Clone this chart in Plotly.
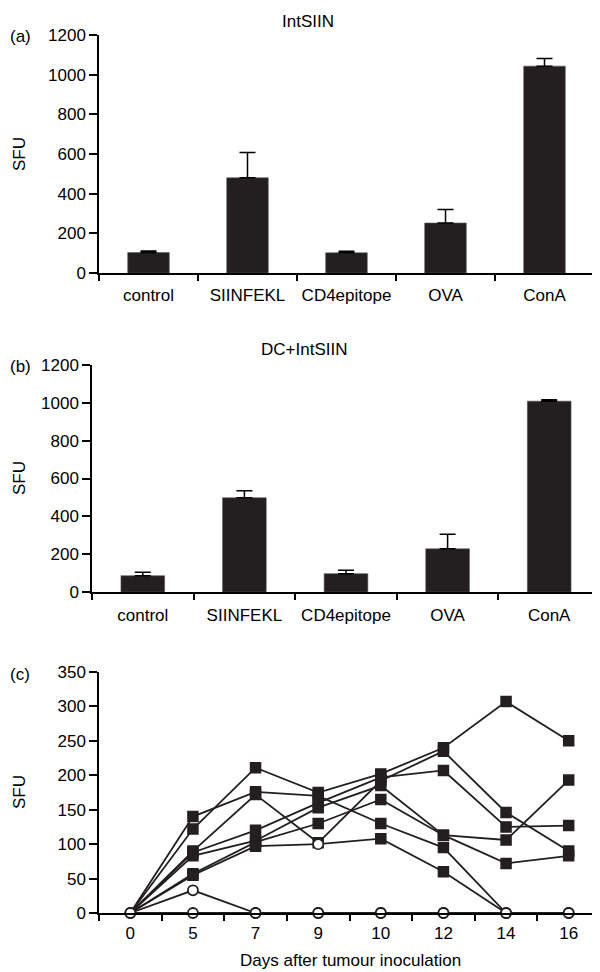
import plotly.graph_objects as go

# ---------------- data ----------------
categories = ["control", "SIINFEKL", "CD4epitope", "OVA", "ConA"]
a_values = [103, 480, 102, 252, 1043]
a_errors = [8, 128, 8, 68, 39]
b_values = [86, 498, 97, 228, 1009]
b_errors = [18, 37, 18, 77, 7]

days = ["0", "5", "7", "9", "10", "12", "14", "16"]
s1 = [0, 122, 211, 175, 202, 240, 307, 250]
s2 = [0, 140, 176, 170, 130, 95, 0, None]
s3 = [0, 90, 172, 102, 192, 235, 146, 90]
s4 = [0, 88, 120, 160, 197, 207, 125, 127]
s5 = [0, 83, 105, 153, 185, 113, 106, 193]
s6 = [0, 57, 103, 130, 165, 113, 72, 83]
s7 = [0, 55, 97, 100, 108, 60, 0, None]
o1 = [0, 33, 0, 0, 0, 0, 0, 0]
o2 = [0, 0, 0, 0, 0, 0, 0, 0]

# the page body has an 8px margin: size the figure so it fits the window
OFF = 8
W, H = 600 - OFF, 972 - OFF
FONT = "Liberation Sans, Arial, Helvetica, sans-serif"
FS = 17
BAR = "#231f20"


def px_x(x):
    return (x - OFF) / W


def px_y(y):
    return 1 - (y - OFF) / H


fig = go.Figure()

# panel a
fig.add_trace(go.Bar(
    x=categories, y=a_values, xaxis="x", yaxis="y",
    marker=dict(color=BAR, line=dict(color="#555", width=0.6)), width=0.42,
    error_y=dict(type="data", symmetric=False, array=a_errors,
                 arrayminus=[0] * len(a_errors), color="black",
                 thickness=1.5, width=8),
    showlegend=False))

# panel b
fig.add_trace(go.Bar(
    x=categories, y=b_values, xaxis="x2", yaxis="y2",
    marker=dict(color=BAR, line=dict(color="#555", width=0.6)), width=0.43,
    error_y=dict(type="data", symmetric=False, array=b_errors,
                 arrayminus=[0] * len(b_errors), color="black",
                 thickness=1.5, width=8),
    showlegend=False))

# panel c - filled series
filled = [s1, s2, s3, s4, s5, s6, s7]
for s in filled:
    sizes = []
    symbols = []
    colors = []
    for i, v in enumerate(s):
        hidden = (i == 0) or (v == 0)
        sizes.append(0 if hidden else 10)
        symbols.append("square")
        colors.append(BAR)
    if s is s7:
        symbols[3] = "circle"
        colors[3] = "white"
    fig.add_trace(go.Scatter(
        x=days, y=s, xaxis="x3", yaxis="y3", mode="lines+markers",
        line=dict(color=BAR, width=1.8),
        marker=dict(symbol=symbols, size=sizes, color=colors, opacity=1,
                    line=dict(color=BAR, width=1.5)),
        cliponaxis=False, connectgaps=False, showlegend=False))

for s in [o1, o2]:
    fig.add_trace(go.Scatter(
        x=days, y=s, xaxis="x3", yaxis="y3", mode="lines+markers",
        line=dict(color=BAR, width=1.8),
        marker=dict(symbol="circle", size=10, color="white", opacity=1,
                    line=dict(color=BAR, width=1.8)),
        cliponaxis=False, showlegend=False))

axis_common = dict(showgrid=False, zeroline=False, showline=True,
                   automargin=False,
                   linecolor="black", linewidth=1.5, ticks="outside",
                   tickcolor="black", tickwidth=1.5,
                   tickfont=dict(family=FONT, size=FS, color="black"))

fig.update_layout(
    width=W, height=H, margin=dict(l=0, r=0, t=0, b=0, autoexpand=False),
    paper_bgcolor="white", plot_bgcolor="white",
    font=dict(family=FONT, size=FS, color="black"),
    xaxis=dict(domain=[px_x(99), px_x(594)], anchor="y", type="category",
               range=[-0.5, 4.5], tickson="boundaries", ticklen=6,
               tickangle=0, ticklabelstandoff=6, **axis_common),
    yaxis=dict(domain=[px_y(273), px_y(35)], anchor="x", range=[0, 1200],
               tickvals=[0, 200, 400, 600, 800, 1000, 1200], ticklen=8,
               **axis_common),
    xaxis2=dict(domain=[px_x(92), px_x(600)], anchor="y2", type="category",
                range=[-0.5, 4.5], tickson="boundaries", ticklen=6,
                tickangle=0, ticklabelstandoff=7, **axis_common),
    yaxis2=dict(domain=[px_y(592), px_y(365)], anchor="x2", range=[0, 1200],
                tickvals=[0, 200, 400, 600, 800, 1000, 1200], ticklen=8,
                **axis_common),
    xaxis3=dict(domain=[px_x(99), px_x(600)], anchor="y3", type="category",
                range=[-0.5, 7.5], tickson="boundaries", ticklen=6,
                tickangle=0, ticklabelstandoff=4, **axis_common),
    yaxis3=dict(domain=[px_y(913), px_y(672)], anchor="x3", range=[0, 350],
                tickvals=[0, 50, 100, 150, 200, 250, 300, 350], ticklen=8,
                **axis_common),
)

ann = []


def add_text(text, x, y, xanchor="center", textangle=0):
    ann.append(dict(text=text, x=px_x(x), y=px_y(y), xref="paper",
                    yref="paper", xanchor=xanchor, yanchor="middle",
                    showarrow=False, textangle=textangle,
                    font=dict(family=FONT, size=FS, color="black")))


add_text("IntSIIN", 308, 22)
add_text("DC+IntSIIN", 304, 349)
add_text("(a)", 8, 36, xanchor="left")
add_text("(b)", 8, 366, xanchor="left")
add_text("(c)", 8, 674, xanchor="left")
add_text("SFU", 19, 154, textangle=-90)
add_text("SFU", 19, 478, textangle=-90)
add_text("SFU", 19, 792, textangle=-90)
add_text("Days after tumour inoculation", 350, 960)

fig.update_layout(annotations=ann)

fig.write_html("out.html")
